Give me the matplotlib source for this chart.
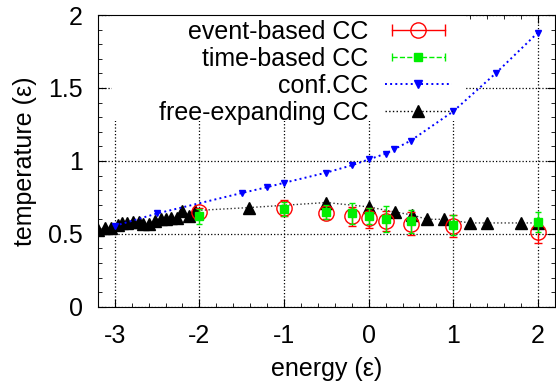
import numpy as np
import matplotlib
matplotlib.use('Agg')
import matplotlib.pyplot as plt
from matplotlib.lines import Line2D
from matplotlib.legend_handler import HandlerLine2D, HandlerTuple
from matplotlib.ticker import MultipleLocator, FuncFormatter
from matplotlib.patches import Rectangle

plt.rcParams['font.family'] = ['Liberation Sans', 'DejaVu Sans']
plt.rcParams['axes.unicode_minus'] = False

#%% data
# event-based CC (red circles, error bars)
ev_x = [-2.0, -1.0, -0.5, -0.2, 0.0, 0.2, 0.5, 1.0, 2.0]
ev_y = [0.65, 0.68, 0.645, 0.62, 0.61, 0.59, 0.57, 0.555, 0.51]
ev_err = [0.03, 0.055, 0.045, 0.065, 0.07, 0.07, 0.08, 0.075, 0.075]

# time-based CC (green squares, error bars)
tb_x = [-2.0, -1.0, -0.5, -0.2, 0.0, 0.2, 0.5, 1.0, 2.0]
tb_y = [0.62, 0.67, 0.65, 0.64, 0.62, 0.60, 0.585, 0.56, 0.58]
tb_err = [0.05, 0.05, 0.05, 0.075, 0.055, 0.09, 0.08, 0.07, 0.07]

# conf.CC (blue down triangles)
cf_x = [-3.0, -2.5, -1.5, -1.2, -1.0, -0.5, -0.2, 0.0, 0.2, 0.3, 0.5, 1.0, 1.5, 2.0]
cf_y = [0.555, 0.64, 0.78, 0.82, 0.85, 0.92, 0.97, 1.01, 1.05, 1.08, 1.14, 1.34, 1.60, 1.88]

# free-expanding CC (black up triangles)
fe_x = [-3.2, -3.12, -3.04, -2.96, -2.91, -2.85, -2.79, -2.71, -2.67, -2.59,
        -2.53, -2.45, -2.39, -2.33, -2.27, -2.2, -2.12, -2.05,
        -1.42, -0.5, 0.0, 0.31, 0.51, 0.69, 0.89, 1.2, 1.4, 1.8, 2.0]
fe_y = [0.53, 0.54, 0.54, 0.56, 0.575, 0.575, 0.58, 0.58, 0.57, 0.57,
        0.59, 0.60, 0.60, 0.61, 0.61, 0.66, 0.62, 0.66,
        0.68, 0.715, 0.685, 0.65, 0.63, 0.60, 0.60, 0.575, 0.575, 0.575, 0.575]

fs = 18

#%% plot
fig = plt.figure(figsize=(5.56, 3.85), dpi=100)
ax = fig.add_axes([0.176, 0.203, 0.822, 0.758])

ax.set_axisbelow(True)
ax.grid(True, which='major', linestyle=':', color='black', linewidth=0.9)
# white box behind the key hides the grid
ax.add_patch(Rectangle((0.03, 0.637), 0.775, 0.363, transform=ax.transAxes,
                       facecolor='white', edgecolor='none', zorder=0.8))

ax.plot(fe_x, fe_y, linestyle=':', color='#333333', linewidth=1.0,
        marker='^', markersize=8, markerfacecolor='black', markeredgecolor='black', zorder=2)
ax.plot(cf_x, cf_y, linestyle=':', color='blue', linewidth=1.4,
        marker='v', markersize=5, markerfacecolor='blue', markeredgecolor='blue', zorder=3)
ax.errorbar(ev_x, ev_y, yerr=ev_err, fmt='o', color='red', markersize=11,
            markerfacecolor='none', markeredgewidth=1.0, elinewidth=1.0, capsize=3, zorder=4)
ax.errorbar(tb_x, tb_y, yerr=tb_err, fmt='s', color='#00ee00', markersize=6,
            elinewidth=1.0, capsize=2, zorder=5)

ax.set_xlim(-3.2, 2.2)
ax.set_ylim(0, 2)
ax.xaxis.set_major_locator(MultipleLocator(1))
ax.xaxis.set_minor_locator(MultipleLocator(0.2))
ax.yaxis.set_major_locator(MultipleLocator(0.5))
ax.yaxis.set_minor_locator(MultipleLocator(0.1))
ax.yaxis.set_major_formatter(FuncFormatter(lambda v, p: '%g' % v))
ax.tick_params(which='both', direction='in', top=True, right=True, labelsize=fs)
ax.tick_params(which='major', length=6)
ax.tick_params(which='minor', length=3)
ax.tick_params(axis='x', which='major', pad=12)
ax.tick_params(axis='y', which='major', pad=11)
ax.set_xlabel('energy (ε)', fontsize=fs, labelpad=7)
ax.set_ylabel('temperature (ε)', fontsize=fs, labelpad=8)

#%% key like gnuplot's
h_ev_line = Line2D([], [], color='red', linestyle='-', linewidth=1.0, marker='|', markersize=8)
h_ev_mark = Line2D([], [], color='red', linestyle='none', marker='o', markersize=11, markerfacecolor='none')
h_tb_line = Line2D([], [], color='#00ee00', linestyle='--', linewidth=1.0, marker='|', markersize=6)
h_tb_mark = Line2D([], [], color='#00ee00', linestyle='none', marker='s', markersize=6)
h_cf = Line2D([], [], color='blue', linestyle=':', linewidth=1.4, marker='v', markersize=6)
h_fe = Line2D([], [], color='black', linestyle=':', linewidth=1.0, marker='^', markersize=8)

hmap = {h_ev_line: HandlerLine2D(numpoints=2), h_tb_line: HandlerLine2D(numpoints=2),
        tuple: HandlerTuple(ndivide=1)}
leg = ax.legend([(h_ev_line, h_ev_mark), (h_tb_line, h_tb_mark), h_cf, h_fe],
                ['event-based CC', 'time-based CC', 'conf.CC', 'free-expanding CC'],
                handler_map=hmap, loc='upper right', bbox_to_anchor=(452 / 556, 1 - 20 / 385),
                bbox_transform=fig.transFigure, frameon=False, markerfirst=False,
                fontsize=fs, handlelength=2.7, handletextpad=0.65, labelspacing=0.12,
                borderpad=0, borderaxespad=0, numpoints=1)
for t in leg.get_texts():
    t.set_ha('right')

fig.savefig('out.png', dpi=100)
